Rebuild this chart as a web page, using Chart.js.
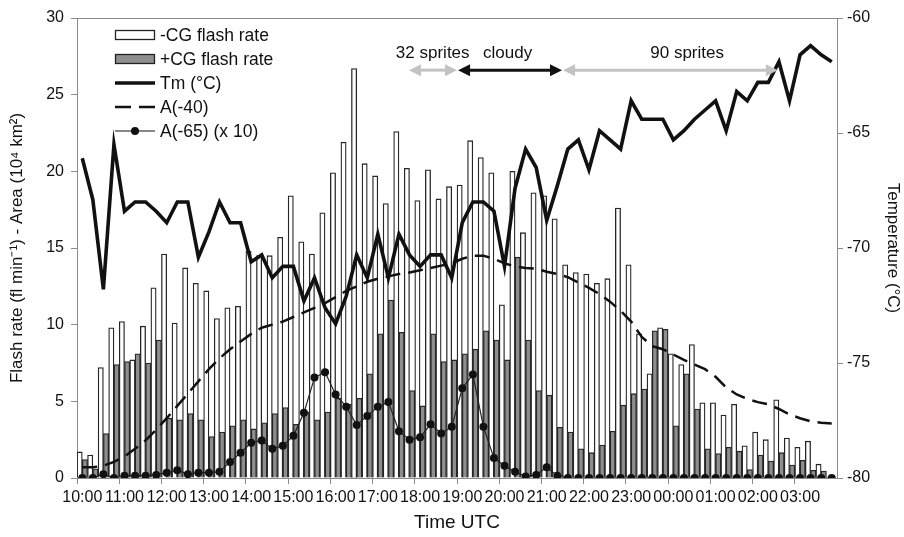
<!DOCTYPE html>
<html>
<head>
<meta charset="utf-8">
<script src="https://cdn.jsdelivr.net/npm/chart.js@4.4.1/dist/chart.umd.min.js"></script>
<style>
  html, body { margin: 0; padding: 0; background: #fff; }
  #wrap { width: 904px; height: 537px; }
</style>
</head>
<body>
<div id="wrap"><canvas id="flashChart" width="904" height="537"></canvas></div>
<script>
// 15-minute slots from 10:00 to 03:45 UTC
const timeLabels = [];
for (let i = 0; i < 72; i++) {
    const m = 600 + i * 15;
    const h = Math.floor(m / 60) % 24;
    timeLabels.push(String(h).padStart(2, '0') + ':' + String(m % 60).padStart(2, '0'));
}

const negCG = [1.7, 1.5, 7.2, 9.8, 10.2, 7.7, 9.9, 12.4, 14.6, 10.1, 13.7, 12.7, 12.2, 10.4, 11.1, 11.2,
    14.8, 14.5, 14.5, 15.7, 18.4, 15.4, 14.6, 17.3, 19.9, 21.9, 26.7, 20.5, 19.7, 17.9, 22.6, 20.2,
    18.1, 20.1, 18.2, 19.0, 19.1, 22.0, 20.9, 19.9, 11.3, 20.0, 16.0, 18.6, 18.4, 16.9, 13.9, 13.4,
    13.3, 12.7, 13.0, 17.6, 13.9, 9.4, 6.8, 9.8, 8.1, 7.4, 8.7, 4.9, 4.9, 4.1, 4.8, 2.1,
    3.0, 2.5, 5.1, 2.6, 2.0, 2.4, 0.9, 0.0];

const posCG = [1.2, 0.6, 2.9, 7.4, 7.6, 8.1, 7.5, 9.0, 3.9, 3.8, 4.2, 3.8, 2.7, 3.0, 3.4, 3.8,
    3.2, 3.6, 4.2, 4.6, 3.5, 4.3, 3.8, 4.3, 5.2, 4.8, 5.2, 6.8, 9.4, 11.6, 9.5, 5.7,
    4.7, 9.4, 7.6, 7.7, 8.1, 8.4, 9.6, 9.0, 7.7, 14.4, 9.0, 5.7, 5.4, 3.3, 3.0, 1.9,
    1.65, 2.15, 3.05, 4.75, 5.5, 5.8, 9.6, 9.7, 3.4, 6.8, 4.5, 1.9, 1.6, 2.0, 1.75, 0.55,
    1.5, 1.1, 1.65, 0.85, 1.15, 0.5, 0.45, 0.0];

const tmValues = [-66.1, -67.9, -71.8, -65.5, -68.4, -68.0, -68.0, -68.4, -68.9, -68.0, -68.0, -70.4, -69.3, -68.0, -68.9, -68.9,
    -70.6, -70.3, -71.3, -70.8, -70.8, -72.3, -71.3, -72.6, -73.3, -72.1, -70.3, -71.3, -69.4, -71.3, -69.4, -70.3,
    -70.8, -70.3, -70.3, -71.3, -68.9, -68.0, -68.0, -68.4, -70.8, -67.4, -65.7, -66.5, -68.8, -67.3, -65.7, -65.3,
    -66.6, -64.9, -65.3, -65.7, -63.6, -64.4, -64.4, -64.4, -65.3, -64.9, -64.4, -64.0, -63.6, -64.9, -63.2, -63.6,
    -62.8, -62.8, -61.9, -63.6, -61.6, -61.2, -61.6, -61.9];

const areaMinus40 = [0.7, 0.7, 0.8, 1.05, 1.4, 1.9, 2.45, 3.15, 3.9, 4.7, 5.5, 6.3, 7.1, 7.8, 8.4, 8.9,
    9.4, 9.8, 10.0, 10.2, 10.5, 10.8, 11.1, 11.4, 11.8, 12.2, 12.5, 12.8, 13.0, 13.15, 13.3, 13.4,
    13.55, 13.7, 13.85, 14.0, 14.3, 14.5, 14.5, 14.3, 14.0, 13.8, 13.7, 13.65, 13.45, 13.3, 13.1, 12.75,
    12.4, 12.0, 11.5, 10.9, 10.2, 9.2, 8.6, 8.4, 8.05, 7.7, 7.4, 7.1, 6.6, 5.9, 5.45, 5.15,
    4.95, 4.8, 4.5, 4.15, 3.9, 3.7, 3.6, 3.55];

const areaMinus65 = [0, 0, 0.25, 0, 0.15, 0.15, 0.15, 0.2, 0.35, 0.5, 0.25, 0.35, 0.35, 0.4, 1.05, 1.65,
    2.3, 2.45, 1.9, 2.1, 2.75, 4.25, 6.55, 6.9, 5.45, 4.65, 3.45, 4.05, 4.65, 4.95, 3.05, 2.5,
    2.65, 3.5, 2.9, 3.35, 5.85, 6.75, 3.35, 1.3, 0.8, 0.4, 0.1, 0.2, 0.7, 0.15, 0, 0,
    0, 0, 0, 0, 0, 0, 0, 0, 0, 0, 0, 0, 0, 0, 0, 0,
    0, 0, 0, 0, 0, 0, 0, 0];

// observation periods, in slot units
const periods = [
    { text: '32 sprites', from: 30.95, to: 35.5, textAt: 33.2, color: '#c3c3c3' },
    { text: 'cloudy', from: 35.6, to: 45.45, textAt: 40.3, color: '#111111' },
    { text: '90 sprites', from: 45.55, to: 65.9, textAt: 57.3, color: '#c3c3c3' }
];

const FONT = "'Liberation Sans', Arial, sans-serif";
const AXIS = '#8a8a8a';
const INK = '#111';

function arrow(c, x1, x2, y, color) {
    const head = 12, half = 6;
    c.save();
    c.strokeStyle = color;
    c.fillStyle = color;
    c.lineWidth = 3;
    c.beginPath();
    c.moveTo(x1 + head - 2, y);
    c.lineTo(x2 - head + 2, y);
    c.stroke();
    c.beginPath();
    c.moveTo(x1, y); c.lineTo(x1 + head, y - half); c.lineTo(x1 + head, y + half); c.closePath();
    c.fill();
    c.beginPath();
    c.moveTo(x2, y); c.lineTo(x2 - head, y - half); c.lineTo(x2 - head, y + half); c.closePath();
    c.fill();
    c.restore();
}

const decorations = {
    id: 'decorations',
    beforeDraw(chart) {
        const c = chart.ctx;
        c.save();
        c.fillStyle = '#fff';
        c.fillRect(0, 0, chart.width, chart.height);
        c.restore();
    },
    afterDraw(chart) {
        const c = chart.ctx;
        const area = chart.chartArea;
        const x = chart.scales.x, y = chart.scales.y;
        c.save();
        // top frame line
        c.strokeStyle = AXIS;
        c.lineWidth = 1;
        c.beginPath();
        c.moveTo(area.left, area.top + 0.5);
        c.lineTo(area.right, area.top + 0.5);
        c.stroke();

        // period arrows
        const arrowY = y.getPixelForValue(26.6);
        const textY = y.getPixelForValue(27.7);
        c.font = '17px ' + FONT;
        c.fillStyle = INK;
        c.textAlign = 'center';
        c.textBaseline = 'middle';
        periods.forEach(p => {
            arrow(c, x.getPixelForValue(p.from), x.getPixelForValue(p.to), arrowY, p.color);
            c.fillText(p.text, x.getPixelForValue(p.textAt), textY);
        });

        // legend
        const sx = 115, sw = 40, tx = 160;
        const rows = [35, 59, 83, 107, 131];
        c.font = '17.5px ' + FONT;
        c.textAlign = 'left';
        c.fillStyle = INK;
        const items = chart.data.datasets;
        const order = [3, 4, 0, 1, 2];
        order.forEach((di, r) => {
            const ds = items[di];
            const ry = rows[r];
            c.save();
            if (ds.type === 'bar') {
                c.fillStyle = ds.backgroundColor;
                c.strokeStyle = '#222';
                c.lineWidth = 1.3;
                c.fillRect(sx, ry - 5, sw, 10);
                c.strokeRect(sx + 0.5, ry - 4.5, sw - 1, 9);
            } else {
                c.strokeStyle = INK;
                c.lineWidth = ds.borderWidth;
                if (ds.borderDash) c.setLineDash([16, 8]);
                c.beginPath();
                c.moveTo(sx, ry);
                c.lineTo(sx + sw, ry);
                c.stroke();
                if (ds.pointRadius) {
                    c.fillStyle = INK;
                    c.beginPath();
                    c.arc(sx + sw / 2, ry, 4, 0, Math.PI * 2);
                    c.fill();
                }
            }
            c.restore();
            c.fillText(ds.label, tx, ry + 1);
        });
        c.restore();
    }
};

const tickFont = { family: FONT, size: 16 };

new Chart(document.getElementById('flashChart'), {
    type: 'bar',
    data: {
        labels: timeLabels,
        datasets: [
            {
                type: 'line', label: 'Tm (°C)', data: tmValues, yAxisID: 'y2',
                borderColor: INK, borderWidth: 3.6, pointRadius: 0, tension: 0,
                borderJoinStyle: 'miter'
            },
            {
                type: 'line', label: 'A(-40)', data: areaMinus40, yAxisID: 'y',
                borderColor: INK, borderWidth: 2.5, borderDash: [15, 8], pointRadius: 0, tension: 0
            },
            {
                type: 'line', label: 'A(-65) (x 10)', data: areaMinus65, yAxisID: 'y',
                borderColor: '#222', borderWidth: 1.2, pointRadius: 4,
                pointBackgroundColor: INK, pointBorderWidth: 0, tension: 0
            },
            {
                type: 'bar', label: '-CG flash rate', data: negCG, yAxisID: 'y',
                backgroundColor: '#ffffff', borderColor: '#262626', borderWidth: 1.3,
                categoryPercentage: 1, barPercentage: 1
            },
            {
                type: 'bar', label: '+CG flash rate', data: posCG, yAxisID: 'y',
                backgroundColor: '#8e8e8e', borderColor: '#262626', borderWidth: 1.3,
                categoryPercentage: 1, barPercentage: 1
            }
        ]
    },
    options: {
        responsive: false,
        animation: false,
        devicePixelRatio: 1,
        layout: { padding: { top: 18, left: 0, right: 0, bottom: 0 } },
        plugins: { legend: { display: false }, tooltip: { enabled: false } },
        scales: {
            x: {
                offset: true,
                grid: {
                    offset: true, drawOnChartArea: false, tickLength: 6,
                    color: ctx => (ctx.index % 4 === 0 ? AXIS : 'rgba(0,0,0,0)')
                },
                border: { color: AXIS, width: 1 },
                ticks: {
                    autoSkip: false, maxRotation: 0, minRotation: 0, padding: 4,
                    color: INK, font: tickFont,
                    callback: (v, i) => (i % 4 === 0 ? timeLabels[i] : '')
                },
                title: {
                    display: true, text: 'Time UTC', color: INK,
                    font: { family: FONT, size: 19 }, padding: { top: 0, bottom: 3 }
                },
                afterFit: s => { s.height = 59; }
            },
            y: {
                position: 'left', min: 0, max: 30,
                grid: { drawOnChartArea: false, tickLength: 6, color: AXIS },
                border: { color: AXIS, width: 1 },
                ticks: { stepSize: 5, color: INK, font: tickFont, padding: 7 },
                title: {
                    display: true, text: 'Flash rate (fl min⁻¹) - Area (10⁴ km²)', color: INK,
                    font: { family: FONT, size: 17 }, padding: { top: 7, bottom: 0 }
                },
                afterFit: s => { s.width = 77; }
            },
            y2: {
                position: 'right', min: -80, max: -60,
                grid: { drawOnChartArea: false, tickLength: 6, color: AXIS },
                border: { color: AXIS, width: 1 },
                ticks: { stepSize: 5, color: INK, font: tickFont, padding: 4 },
                title: {
                    display: true, text: 'Temperature (°C)', color: INK,
                    font: { family: FONT, size: 17 }, padding: { top: 1, bottom: 0 }
                },
                afterFit: s => { s.width = 67; }
            }
        }
    },
    plugins: [decorations]
});
</script>
</body>
</html>
